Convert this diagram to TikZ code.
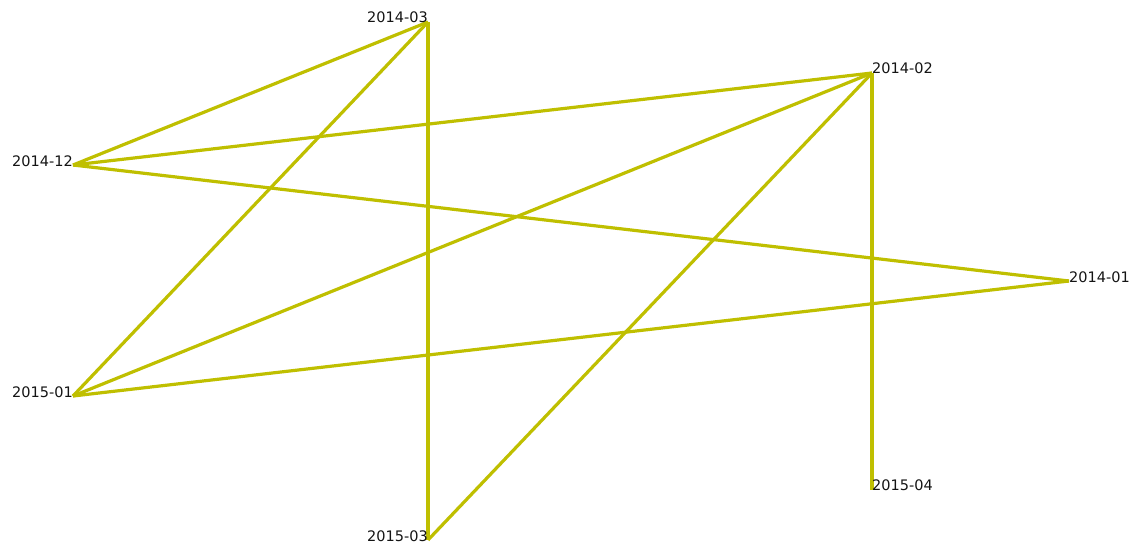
\documentclass[tikz,border=0pt]{standalone}
\usepackage{fontspec}
\setmainfont{DejaVu Sans}
\begin{document}
\begin{tikzpicture}[x=1pt,y=-1pt,
  edge/.style={draw={rgb,255:red,191;green,191;blue,0},line width=3.2pt},
  lblL/.style={anchor=base east,inner sep=0pt,font=\fontsize{14.5}{16}\selectfont,text={rgb,255:red,20;green,20;blue,20}},
  lblR/.style={anchor=base west,inner sep=0pt,font=\fontsize{14.5}{16}\selectfont,text={rgb,255:red,20;green,20;blue,20}}]
\useasboundingbox (0,0) rectangle (1139,544);
\coordinate (m1403) at (428,22);
\coordinate (m1402) at (872,73);
\coordinate (m1412) at (73,165);
\coordinate (m1401) at (1069,281);
\coordinate (m1501) at (73,396);
\coordinate (m1503) at (428,540);
\coordinate (m1504) at (872,490);
\draw[edge] (m1412) -- (m1403);
\draw[edge] (m1412) -- (m1402);
\draw[edge] (m1412) -- (m1401);
\draw[edge] (m1403) -- (m1501);
\draw[edge] (m1403) -- (m1503);
\draw[edge] (m1402) -- (m1501);
\draw[edge] (m1402) -- (m1503);
\draw[edge] (m1402) -- (m1504);
\draw[edge] (m1401) -- (m1501);
\node[lblL] (t1403) at (m1403) {2014-03};
\node[lblR] (t1402) at (m1402) {2014-02};
\node[lblL] (t1412) at ([yshift=-1pt]m1412) {2014-12};
\node[lblR] (t1401) at ([yshift=-1pt]m1401) {2014-01};
\node[lblL] (t1501) at ([yshift=-1pt]m1501) {2015-01};
\node[lblL] (t1503) at ([yshift=-1pt]m1503) {2015-03};
\node[lblR] (t1504) at (m1504) {2015-04};
\end{tikzpicture}
\end{document}
